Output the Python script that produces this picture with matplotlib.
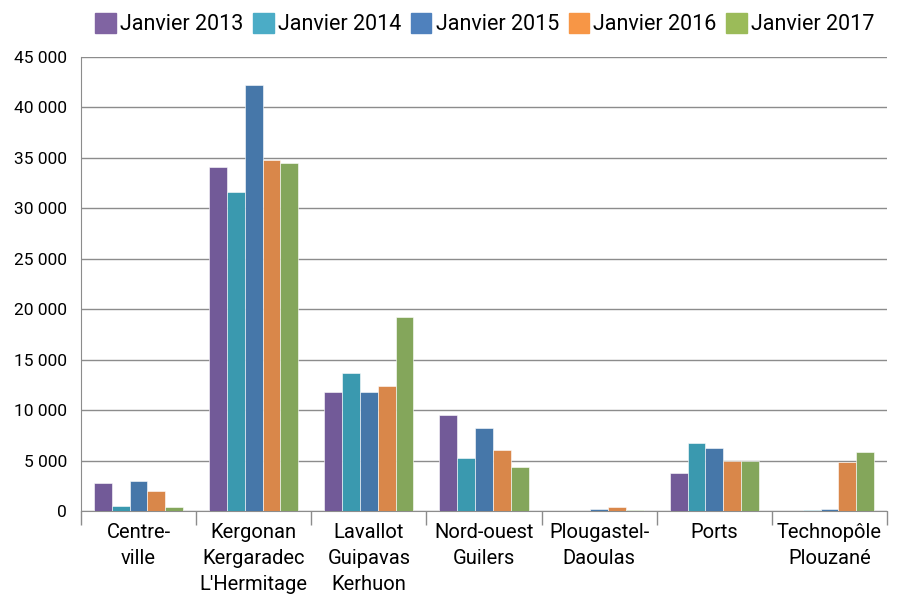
import matplotlib
matplotlib.use("Agg")
import matplotlib.pyplot as plt
import numpy as np
from matplotlib.ticker import FuncFormatter

plt.rcParams["font.family"] = ["Roboto", "DejaVu Sans"]

categories = ["Centre-\nville", "Kergonan\nKergaradec\nL'Hermitage", "Lavallot\nGuipavas\nKerhuon",
              "Nord-ouest\nGuilers", "Plougastel-\nDaoulas", "Ports", "Technopôle\nPlouzané"]
series = ["Janvier 2013", "Janvier 2014", "Janvier 2015", "Janvier 2016", "Janvier 2017"]
v2013 = [2800, 34100, 11800, 9550, 0, 3800, 0]
v2014 = [500, 31600, 13700, 5300, 0, 6700, 100]
v2015 = [3000, 42200, 11800, 8250, 150, 6200, 200]
v2016 = [2000, 34800, 12400, 6050, 400, 4950, 4900]
v2017 = [400, 34500, 19200, 4350, 100, 4950, 5800]
values = [v2013, v2014, v2015, v2016, v2017]

bar_colors = ["#725A98", "#3A99AF", "#4677A9", "#D9874A", "#84A65B"]
legend_colors = ["#8064A2", "#4BACC6", "#4F81BD", "#F79646", "#9BBB59"]

fig = plt.figure(figsize=(8.98, 5.94), dpi=100)
ax = fig.add_axes([81/898, 1-511/594, 806/898, 454/594])

x = np.arange(len(categories))
w = 0.155
for i, (s, v) in enumerate(zip(series, values)):
    ax.bar(x + (i - 2) * w, v, width=w, color=bar_colors[i], edgecolor="white", linewidth=0.4,
           zorder=3)

ax.set_xlim(-0.5, len(categories) - 0.5)
ax.set_ylim(0, 45000)
ax.set_yticks(np.arange(0, 45001, 5000))
ax.yaxis.set_major_formatter(FuncFormatter(lambda v, p: f"{int(v):,}".replace(",", " ")))
ax.grid(axis="y", color="#8c8c8c", linewidth=1, zorder=0)
ax.tick_params(axis="y", labelsize=12.5, length=0, pad=10, labelcolor="black")

# category boundaries carry the tick marks, centres carry the labels
ax.set_xticks(np.arange(-0.5, len(categories)), minor=False)
ax.set_xticklabels([])
ax.tick_params(axis="x", which="major", length=10, color="#8c8c8c", width=1)
ax.set_xticks(x, minor=True)
ax.set_xticklabels(categories, minor=True, fontsize=14.5, linespacing=1.45)
ax.tick_params(axis="x", which="minor", length=0, pad=9)

for sp in ["top", "right"]:
    ax.spines[sp].set_visible(False)
ax.spines["left"].set_color("#8c8c8c")
ax.spines["bottom"].set_color("#8c8c8c")

handles = [plt.Rectangle((0, 0), 1, 1, color=c) for c in legend_colors]
fig.legend(handles, series, loc="upper center", bbox_to_anchor=(0.54, 1.01), ncol=5, frameon=False,
           fontsize=15.5, handlelength=0.95, handleheight=1.0, handletextpad=0.2, columnspacing=0.45)

fig.savefig("out.png", dpi=100)
